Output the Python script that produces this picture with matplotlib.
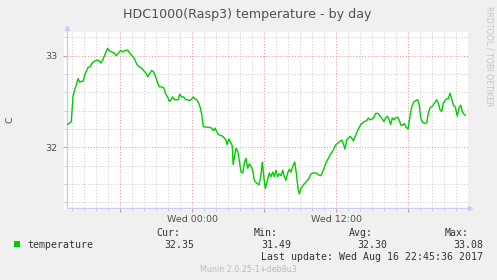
import matplotlib
matplotlib.use("Agg")
import matplotlib.pyplot as plt
import numpy as np

# ---- data (hours relative to Wed 00:00, temperature in C) ----
hours = [-10.42, -10.23, -10.06, -9.92, -9.78, -9.64, -9.5, -9.36, -9.23, -9.08,
         -8.94, -8.81, -8.67, -8.48, -8.33, -8.11, -7.98, -7.78, -7.58, -7.42,
         -7.23, -7.03, -6.86, -6.67, -6.48, -6.31, -6.11, -5.94, -5.78, -5.56,
         -5.36, -5.19, -5.0, -4.81, -4.58, -4.39, -4.17, -3.98, -3.83, -3.69,
         -3.56, -3.36, -3.19, -3.03, -2.86, -2.73, -2.53, -2.36, -2.19, -2.03,
         -1.89, -1.75, -1.61, -1.48, -1.31, -1.14, -1.03, -0.86, -0.69, -0.53,
         -0.36, -0.23, -0.08, 0.11, 0.25, 0.39, 0.53, 0.67, 0.81, 0.94,
         1.08, 1.36, 1.64, 1.78, 1.92, 2.06, 2.19, 2.39, 2.56, 2.69,
         2.83, 2.92, 3.08, 3.21, 3.36, 3.43, 3.54, 3.67, 3.82, 3.94,
         4.08, 4.23, 4.36, 4.5, 4.64, 4.78, 4.92, 5.06, 5.19, 5.38,
         5.58, 5.73, 5.86, 6.0, 6.11, 6.28, 6.44, 6.58, 6.73, 6.86,
         7.0, 7.14, 7.28, 7.42, 7.56, 7.69, 7.83, 7.97, 8.11, 8.25,
         8.39, 8.56, 8.73, 8.83, 8.94, 9.08, 9.28, 9.5, 9.69, 9.92,
         10.11, 10.33, 10.53, 10.75, 10.94, 11.17, 11.44, 11.73, 12.0, 12.28,
         12.48, 12.61, 12.75, 12.89, 13.03, 13.17, 13.31, 13.44, 13.64, 13.86,
         14.08, 14.33, 14.56, 14.69, 14.83, 15.03, 15.17, 15.31, 15.48, 15.61,
         15.81, 16.0, 16.14, 16.28, 16.42, 16.56, 16.69, 16.83, 16.97, 17.14,
         17.28, 17.42, 17.56, 17.69, 17.83, 18.0, 18.17, 18.31, 18.5, 18.67,
         18.81, 18.94, 19.06, 19.23, 19.42, 19.56, 19.69, 19.83, 20.03, 20.19,
         20.39, 20.53, 20.67, 20.81, 20.94, 21.08, 21.23, 21.36, 21.5, 21.64,
         21.78, 21.94, 22.11, 22.25, 22.39, 22.53, 22.67, 22.78]
temperature = [32.25, 32.26, 32.28, 32.55, 32.63, 32.68, 32.75, 32.71, 32.72, 32.72,
               32.79, 32.83, 32.87, 32.88, 32.92, 32.94, 32.95, 32.95, 32.92, 32.96,
               33.02, 33.08, 33.05, 33.04, 33.03, 33.00, 33.03, 33.06, 33.04, 33.06,
               33.06, 33.03, 33.00, 32.97, 32.90, 32.88, 32.86, 32.83, 32.81, 32.77,
               32.80, 32.84, 32.82, 32.77, 32.70, 32.66, 32.66, 32.65, 32.58, 32.55,
               32.50, 32.52, 32.55, 32.52, 32.52, 32.52, 32.58, 32.55, 32.55, 32.52,
               32.52, 32.51, 32.52, 32.55, 32.53, 32.52, 32.49, 32.44, 32.36, 32.23,
               32.22, 32.22, 32.21, 32.18, 32.21, 32.17, 32.14, 32.13, 32.12, 32.10,
               32.08, 32.03, 32.09, 32.06, 32.01, 31.81, 31.90, 31.99, 31.95, 31.86,
               31.73, 31.72, 31.83, 31.88, 31.77, 31.82, 31.79, 31.75, 31.64, 31.61,
               31.59, 31.68, 31.84, 31.66, 31.55, 31.64, 31.72, 31.68, 31.73, 31.68,
               31.75, 31.68, 31.71, 31.69, 31.75, 31.68, 31.64, 31.72, 31.76, 31.73,
               31.79, 31.84, 31.68, 31.55, 31.49, 31.55, 31.59, 31.62, 31.65, 31.71,
               31.72, 31.72, 31.70, 31.69, 31.75, 31.83, 31.90, 31.96, 32.03, 32.06,
               32.08, 32.04, 31.98, 32.08, 32.10, 32.12, 32.10, 32.07, 32.13, 32.20,
               32.25, 32.28, 32.29, 32.32, 32.30, 32.31, 32.33, 32.37, 32.37, 32.35,
               32.32, 32.28, 32.32, 32.34, 32.30, 32.25, 32.32, 32.30, 32.32, 32.33,
               32.29, 32.24, 32.24, 32.26, 32.22, 32.20, 32.34, 32.44, 32.50, 32.51,
               32.52, 32.46, 32.32, 32.27, 32.26, 32.27, 32.37, 32.43, 32.45, 32.48,
               32.52, 32.48, 32.41, 32.39, 32.48, 32.51, 32.53, 32.53, 32.59, 32.53,
               32.46, 32.44, 32.34, 32.43, 32.46, 32.39, 32.36, 32.35]

x_major = [-6, 0, 6, 12, 18]
x_major_labels = ["", "Wed 00:00", "", "Wed 12:00", ""]
y_major = [32, 33]
y_major_labels = ["32", "33"]

series_name = "temperature"
stat_headers = ["Cur:", "Min:", "Avg:", "Max:"]
stat_values = ["32.35", "31.49", "32.30", "33.08"]
title = "HDC1000(Rasp3) temperature - by day"
y_label = "C"
last_update = "Last update: Wed Aug 16 22:45:36 2017"
footer = "Munin 2.0.25-1+deb8u3"
side_text = "RRDTOOL / TOBI OETIKER"

# ---- figure ----
W, H = 497, 280
fig = plt.figure(figsize=(W / 100, H / 100), dpi=100)
fig.patch.set_facecolor("#F0F0F0")

def fx(px):
    return px / W

def fy(py):
    return 1 - py / H

# white canvas slightly larger than axes
fig.patches.append(plt.Rectangle((fx(64), fy(210)), fx(468) - fx(64), fy(32) - fy(210),
                                 transform=fig.transFigure, facecolor="white",
                                 edgecolor="none", zorder=-5))

ax = fig.add_axes([fx(67), fy(208), fx(468) - fx(67), fy(32) - fy(208)])
ax.set_zorder(1)
ax.patch.set_alpha(0)

ax.set_xlim(-10.4167, 23.0)
ax.set_ylim(31.3373, 33.2587)

grid_minor = "#C8C8C8"
grid_major = "#F08C8C"
dots = (0, (1, 2))

x_minor = [h for h in np.arange(-10, 23, 1) if h % 6 != 0]
y_minor = [round(v, 1) for v in np.arange(31.4, 33.25, 0.2) if abs(v - round(v)) > 1e-6]

# minor grid
for h in x_minor:
    ax.axvline(h, color=grid_minor, lw=0.7, ls=dots, zorder=1)
for v in y_minor:
    ax.axhline(v, color=grid_minor, lw=0.7, ls=dots, zorder=1)
# major grid
for h in x_major:
    ax.axvline(h, color=grid_major, lw=0.7, ls=dots, zorder=1)
for v in y_major:
    ax.axhline(v, color=grid_major, lw=0.7, ls=dots, zorder=1)

ax.plot(hours, temperature, color="#00CC00", lw=1.0, zorder=3)

# axes styling
for s in ["top", "right"]:
    ax.spines[s].set_visible(False)
axis_col = "#C8CCF4"
ax.spines["left"].set_color(axis_col)
ax.spines["bottom"].set_color(axis_col)
ax.spines["left"].set_linewidth(1.0)
ax.spines["bottom"].set_linewidth(1.0)

ax.set_xticks(x_major)
ax.set_xticklabels(x_major_labels)
ax.set_xticks(x_minor, minor=True)
ax.set_yticks(y_major)
ax.set_yticklabels(y_major_labels)
ax.set_yticks(y_minor, minor=True)
ax.tick_params(axis="both", which="major", length=3, width=0.7, color=grid_major,
               labelsize=6.8, labelcolor="#505050", direction="out")
ax.tick_params(axis="both", which="minor", length=2, width=0.7, color=grid_minor,
               direction="out")
ax.tick_params(axis="x", which="major", pad=2)
ax.tick_params(axis="y", which="major", pad=4)

# arrows at axis ends
ax.plot([1.006], [0], marker=">", color=axis_col, ms=3, transform=ax.transAxes, clip_on=False)
ax.plot([0], [1.02], marker="^", color=axis_col, ms=3, transform=ax.transAxes, clip_on=False)

# texts
fig.text(fx(247.5), fy(18.3), title, ha="center", va="baseline", fontsize=9.1,
         color="#505050", family="DejaVu Sans")
fig.text(fx(10), fy(120), y_label, ha="center", va="center", rotation=90,
         fontsize=6.8, color="#505050")
fig.text(fx(488.5), fy(56), side_text, ha="center", va="center", rotation=-90,
         fontsize=5.7, color="#C4C4C4")

mono = "DejaVu Sans Mono"
lg = 7.15
fig.patches.append(plt.Rectangle((fx(14), fy(247)), fx(6), 6 / H, transform=fig.transFigure,
                                 facecolor="#00CC00", edgecolor="none"))
fig.text(fx(27), fy(245.5), series_name, ha="left", va="center", fontsize=lg,
         family=mono, color="#333333")
header_right = [180, 278, 373, 469]
value_right = [194, 291, 387, 483]
for hx, hd in zip(header_right, stat_headers):
    fig.text(fx(hx), fy(233.5), hd, ha="right", va="center", fontsize=lg, family=mono,
             color="#333333")
for vx, vv in zip(value_right, stat_values):
    fig.text(fx(vx), fy(245.5), vv, ha="right", va="center", fontsize=lg, family=mono,
             color="#333333")
fig.text(fx(483), fy(257.5), last_update, ha="right", va="center", fontsize=lg,
         family=mono, color="#333333")
fig.text(fx(248.5), fy(269.5), footer, ha="center", va="center", fontsize=5.75,
         color="#BBBBBB")

fig.savefig("out.png", dpi=100, facecolor=fig.get_facecolor())
